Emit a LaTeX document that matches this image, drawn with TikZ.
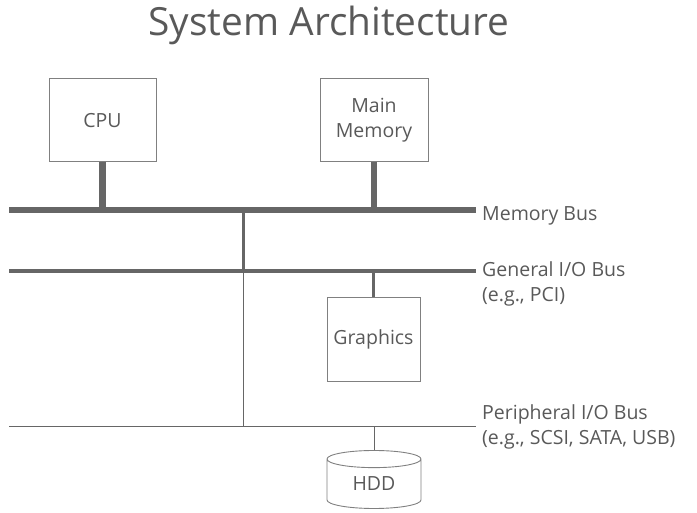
\documentclass[tikz,border=0pt]{standalone}
\usepackage{fontspec}
\setmainfont{Open Sans}
\usetikzlibrary{shapes.geometric}
\definecolor{busgray}{HTML}{666666}
\definecolor{boxgray}{HTML}{808080}
\definecolor{txtgray}{HTML}{595959}
\tikzset{
    unit/.style={draw=boxgray, line width=0.9pt, text=txtgray, font=\fontsize{19.5}{25}\selectfont, align=center, inner sep=0pt},
    buslabel/.style={anchor=west, text=txtgray, font=\fontsize{19.5}{25}\selectfont, align=left, inner sep=0pt},
    fatbus/.style={busgray, line width=6.5pt},
    midbus/.style={busgray, line width=4pt},
    thinbus/.style={busgray, line width=1pt},
}
\begin{document}
\begin{tikzpicture}[x=1pt,y=-1pt]
    \useasboundingbox (0,0) rectangle (697,513);
    \node [anchor=base, text=txtgray, font=\fontsize{38.8}{42}\selectfont, inner sep=0pt] (title) at (329,36) {System Architecture};

    \node [unit, minimum width=107, minimum height=83, text depth=-3pt] (cpu) at (102.5,120) {CPU};
    \node [unit, minimum width=108, minimum height=83] (mem) at (374,120) {\raisebox{-3pt}{Main}\\\raisebox{-3pt}{Memory}};
    \node [unit, minimum width=93, minimum height=84] (gfx) at (373.5,339) {Graphics};
    \node [unit, cylinder, shape border rotate=90, aspect=0.4, minimum width=94, minimum height=58] (hdd) at (374,484) {HDD};

    \coordinate (mbus-l) at (9,210);
    \coordinate (mbus-r) at (476,210);
    \coordinate (iobus-l) at (9,271);
    \coordinate (iobus-r) at (476,271);
    \coordinate (pbus-l) at (9,426);
    \coordinate (pbus-r) at (476,426);
    \coordinate (bridge) at (243,210);

    \draw [fatbus] (mbus-l) -- (mbus-r);
    \draw [midbus] (iobus-l) -- (iobus-r);
    \draw [thinbus] (pbus-l) -- (pbus-r);

    \draw [fatbus] (cpu) -- (cpu |- mbus-l);
    \draw [fatbus] (mem) -- (mem |- mbus-l);
    \draw [busgray, line width=3pt] (bridge) -- (bridge |- iobus-l);
    \draw [thinbus] (bridge |- iobus-l) -- (bridge |- pbus-l);
    \draw [busgray, line width=3pt] (gfx) -- (gfx |- iobus-l);
    \draw [thinbus] (hdd.top) -- (hdd |- pbus-l);

    \node [buslabel] (mbus) at (482,216) {Memory Bus};
    \node [buslabel, anchor=north west] (iobus) at (482,261) {General I/O Bus\\(e.g., PCI)};
    \node [buslabel, anchor=north west] (pbus) at (482,404) {Peripheral I/O Bus\\(e.g., SCSI, SATA, USB)};
\end{tikzpicture}
\end{document}
